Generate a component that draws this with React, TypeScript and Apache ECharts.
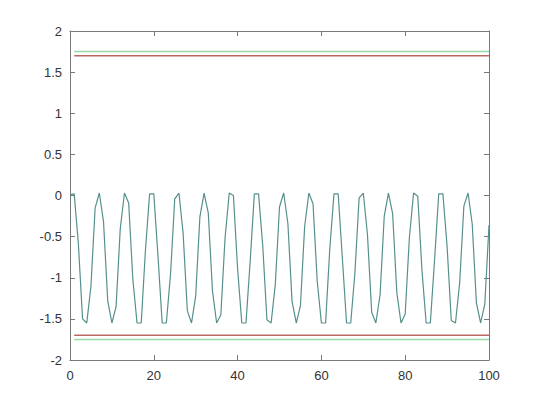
import React, { useEffect, useRef } from "react";
import * as echarts from "echarts";

const xValues: number[] = Array.from({ length: 101 }, (_, i) => i);
const signalValues: number[] = [
  0.01, 0.02, -0.59, -1.5, -1.55, -1.1, -0.15, 0.03, -0.32, -1.28,
  -1.55, -1.35, -0.4, 0.03, -0.09, -1.02, -1.55, -1.55, -0.67, 0.02,
  0.02, -0.74, -1.55, -1.55, -0.95, -0.04, 0.03, -0.46, -1.4, -1.55,
  -1.22, -0.26, 0.03, -0.21, -1.16, -1.55, -1.45, -0.52, 0.03, 0.0,
  -0.89, -1.55, -1.55, -0.8, 0.02, 0.02, -0.61, -1.51, -1.55, -1.08,
  -0.14, 0.03, -0.34, -1.29, -1.55, -1.34, -0.38, 0.03, -0.1, -1.04,
  -1.55, -1.55, -0.65, 0.02, 0.02, -0.76, -1.55, -1.55, -0.94, -0.03,
  0.03, -0.48, -1.42, -1.55, -1.21, -0.25, 0.03, -0.22, -1.18, -1.55,
  -1.44, -0.51, 0.03, -0.01, -0.91, -1.55, -1.55, -0.79, 0.02, 0.02,
  -0.62, -1.52, -1.55, -1.06, -0.13, 0.03, -0.35, -1.31, -1.55, -1.32,
  -0.36,
];
const limitStartX = 1;
const limitEndX = 100;
const redLimits: number[] = [1.7, -1.7];
const greenLimits: number[] = [1.75, -1.75];
const xTicks: number[] = [0, 20, 40, 60, 80, 100];
const yTicks: number[] = [-2, -1.5, -1, -0.5, 0, 0.5, 1, 1.5, 2];

const AXIS_COLOR = "#7a7a7a";
const LABEL_COLOR = "#333333";
const FONT = "Liberation Sans, Arial, Helvetica, sans-serif";

export default function App() {
  const ref = useRef<HTMLDivElement>(null);
  useEffect(() => {
    if (!ref.current) return;
    const chart = echarts.init(ref.current, undefined, { renderer: "svg" });
    const axisCommon = {
      axisLine: { show: true, onZero: false, lineStyle: { color: AXIS_COLOR, width: 1 } },
      axisTick: { show: true, inside: true, length: 5, lineStyle: { color: AXIS_COLOR } },
      splitLine: { show: false },
    };
    const limitSeries = (levels: number[], color: string, name: string) =>
      levels.map((lv, i) => ({
        name: `${name}${i}`,
        type: "line",
        xAxisIndex: 0,
        yAxisIndex: 0,
        showSymbol: false,
        symbol: "none",
        lineStyle: { color, width: 1.5 },
        data: [
          [limitStartX, lv],
          [limitEndX, lv],
        ],
      }));
    chart.setOption({
      animation: false,
      backgroundColor: "#ffffff",
      grid: { left: 70, right: 51, top: 31, bottom: 45, containLabel: false },
      xAxis: [
        {
          type: "value",
          min: xTicks[0],
          max: xTicks[xTicks.length - 1],
          interval: 20,
          position: "bottom",
          ...axisCommon,
          axisLabel: { color: LABEL_COLOR, fontSize: 13, fontFamily: FONT, margin: 9 },
        },
        {
          type: "value",
          min: xTicks[0],
          max: xTicks[xTicks.length - 1],
          interval: 20,
          position: "top",
          ...axisCommon,
          axisLabel: { show: false },
        },
      ],
      yAxis: [
        {
          type: "value",
          min: yTicks[0],
          max: yTicks[yTicks.length - 1],
          interval: 0.5,
          position: "left",
          ...axisCommon,
          axisLabel: { color: LABEL_COLOR, fontSize: 13, fontFamily: FONT, margin: 8 },
        },
        {
          type: "value",
          min: yTicks[0],
          max: yTicks[yTicks.length - 1],
          interval: 0.5,
          position: "right",
          ...axisCommon,
          axisLabel: { show: false },
        },
      ],
      series: [
        ...limitSeries(greenLimits, "#98d9a8", "green"),
        ...limitSeries(redLimits, "#b86a62", "red"),
        {
          name: "signal",
          type: "line",
          xAxisIndex: 0,
          yAxisIndex: 0,
          showSymbol: false,
          symbol: "none",
          lineStyle: { color: "#56908c", width: 1.2 },
          data: xValues.map((x, i) => [x, signalValues[i]]),
        },
      ],
    });
    return () => chart.dispose();
  }, []);
  return <div ref={ref} style={{ width: 540, height: 405, position: "absolute", left: 0, top: 0 }} />;
}
